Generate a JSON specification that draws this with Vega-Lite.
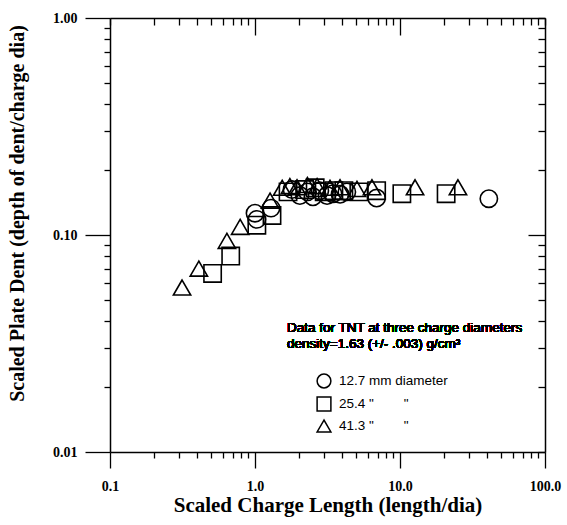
{
  "$schema": "https://vega.github.io/schema/vega-lite/v6.json",
  "width": 435,
  "height": 434,
  "autosize": {"type": "none"},
  "padding": {"left": 110, "top": 18, "right": 22, "bottom": 73},
  "background": "white",
  "config": {
    "view": {"stroke": null},
    "axis": {
      "grid": false,
      "domainColor": "black",
      "domainWidth": 1.5,
      "tickColor": "black",
      "tickWidth": 1.3,
      "labelColor": "black",
      "labelFont": "Liberation Serif",
      "labelFontWeight": "bold",
      "labelFontSize": 14,
      "labelFlush": false,
      "labelOverlap": false,
      "labelBound": false,
      "titleColor": "black",
      "titleFont": "Liberation Serif",
      "titleFontWeight": "bold"
    }
  },
  "data": {
    "values": [
      {"length": 1.0, "dent": 0.126, "dia": "12.7"},
      {"length": 1.03, "dent": 0.118, "dia": "12.7"},
      {"length": 1.29, "dent": 0.133, "dia": "12.7"},
      {"length": 1.8, "dent": 0.162, "dia": "12.7"},
      {"length": 2.04, "dent": 0.152, "dia": "12.7"},
      {"length": 2.3, "dent": 0.158, "dia": "12.7"},
      {"length": 2.51, "dent": 0.15, "dia": "12.7"},
      {"length": 2.8, "dent": 0.16, "dia": "12.7"},
      {"length": 3.14, "dent": 0.152, "dia": "12.7"},
      {"length": 3.45, "dent": 0.155, "dia": "12.7"},
      {"length": 3.86, "dent": 0.154, "dia": "12.7"},
      {"length": 4.3, "dent": 0.158, "dia": "12.7"},
      {"length": 6.9, "dent": 0.148, "dia": "12.7"},
      {"length": 41.0, "dent": 0.147, "dia": "12.7"},
      {"length": 0.51, "dent": 0.0665, "dia": "25.4"},
      {"length": 0.68, "dent": 0.08, "dia": "25.4"},
      {"length": 1.03, "dent": 0.111, "dia": "25.4"},
      {"length": 1.31, "dent": 0.123, "dia": "25.4"},
      {"length": 1.69, "dent": 0.158, "dia": "25.4"},
      {"length": 2.2, "dent": 0.162, "dia": "25.4"},
      {"length": 2.6, "dent": 0.165, "dia": "25.4"},
      {"length": 3.0, "dent": 0.158, "dia": "25.4"},
      {"length": 3.5, "dent": 0.16, "dia": "25.4"},
      {"length": 4.1, "dent": 0.16, "dia": "25.4"},
      {"length": 5.2, "dent": 0.158, "dia": "25.4"},
      {"length": 6.9, "dent": 0.16, "dia": "25.4"},
      {"length": 10.3, "dent": 0.155, "dia": "25.4"},
      {"length": 20.8, "dent": 0.155, "dia": "25.4"},
      {"length": 0.314, "dent": 0.0573, "dia": "41.3"},
      {"length": 0.41, "dent": 0.07, "dia": "41.3"},
      {"length": 0.64, "dent": 0.094, "dia": "41.3"},
      {"length": 0.79, "dent": 0.109, "dia": "41.3"},
      {"length": 1.27, "dent": 0.144, "dia": "41.3"},
      {"length": 1.54, "dent": 0.165, "dia": "41.3"},
      {"length": 1.74, "dent": 0.168, "dia": "41.3"},
      {"length": 1.95, "dent": 0.166, "dia": "41.3"},
      {"length": 2.3, "dent": 0.17, "dia": "41.3"},
      {"length": 2.68, "dent": 0.168, "dia": "41.3"},
      {"length": 3.29, "dent": 0.165, "dia": "41.3"},
      {"length": 3.86, "dent": 0.166, "dia": "41.3"},
      {"length": 5.05, "dent": 0.163, "dia": "41.3"},
      {"length": 6.41, "dent": 0.166, "dia": "41.3"},
      {"length": 12.7, "dent": 0.166, "dia": "41.3"},
      {"length": 25.1, "dent": 0.166, "dia": "41.3"}
    ]
  },
  "layer": [
    {
      "mark": {"type": "point", "filled": false, "color": "black", "strokeWidth": 1.6, "size": 300, "opacity": 1},
      "encoding": {
        "x": {
          "field": "length",
          "type": "quantitative",
          "scale": {"type": "log", "domain": [0.1, 100]},
          "axis": {
            "orient": "bottom",
            "values": [0.1, 0.2, 0.3, 0.4, 0.5, 0.6, 0.7, 0.8, 0.9, 1, 2, 3, 4, 5, 6, 7, 8, 9, 10, 20, 30, 40, 50, 60, 70, 80, 90, 100],
            "labelExpr": "datum.value == 0.1 ? '0.1' : datum.value == 1 ? '1.0' : datum.value == 10 ? '10.0' : datum.value == 100 ? '100.0' : ''",
            "tickSize": {"condition": {"test": "datum.value == 0.1 || datum.value == 1 || datum.value == 10 || datum.value == 100", "value": 16}, "value": 6},
            "labelPadding": 11,
            "title": "Scaled Charge Length (length/dia)",
            "titleFontSize": 21,
            "titleBaseline": "alphabetic",
            "titleY": 59
          }
        },
        "y": {
          "field": "dent",
          "type": "quantitative",
          "scale": {"type": "log", "domain": [0.01, 1]},
          "axis": {
            "orient": "left",
            "values": [0.01, 0.02, 0.03, 0.04, 0.05, 0.06, 0.07, 0.08, 0.09, 0.1, 0.2, 0.3, 0.4, 0.5, 0.6, 0.7, 0.8, 0.9, 1],
            "labelExpr": "datum.value == 0.01 ? '0.01' : datum.value == 0.1 ? '0.10' : datum.value == 1 ? '1.00' : ''",
            "tickSize": {"condition": {"test": "datum.value == 0.01 || datum.value == 0.1 || datum.value == 1", "value": 25}, "value": 6},
            "labelPadding": 8,
            "title": "Scaled Plate Dent (depth of dent/charge dia)",
            "titleFontSize": 20,
            "titleBaseline": "alphabetic",
            "titleAlign": "center",
            "titleX": -87,
            "titleY": 195
          }
        },
        "shape": {
          "field": "dia",
          "type": "nominal",
          "scale": {"domain": ["12.7", "25.4", "41.3"], "range": ["circle", "square", "triangle-up"]},
          "legend": {
            "orient": "none",
            "legendX": 206,
            "legendY": 355,
            "title": null,
            "padding": 0,
            "symbolSize": 190,
            "symbolStrokeWidth": 1.5,
            "symbolStrokeColor": "black",
            "symbolFillColor": "transparent",
            "labelFont": "Liberation Sans",
            "labelFontSize": 13.5,
            "labelColor": "black",
            "labelOffset": 7,
            "rowPadding": 3,
            "labelExpr": "datum.label == '12.7' ? '12.7 mm diameter' : datum.label + ' \"\u00a0\u00a0\u00a0\u00a0\u00a0\u00a0\u00a0\u00a0\"'"
          }
        }
      }
    },
    {
      "mark": {"type": "point", "opacity": 0},
      "encoding": {
        "x": {
          "field": "length",
          "type": "quantitative",
          "scale": {"type": "log", "domain": [0.1, 100]},
          "axis": {
            "orient": "top",
            "values": [0.1, 0.2, 0.3, 0.4, 0.5, 0.6, 0.7, 0.8, 0.9, 1, 2, 3, 4, 5, 6, 7, 8, 9, 10, 20, 30, 40, 50, 60, 70, 80, 90, 100],
            "labels": false,
            "title": null,
            "tickSize": {"condition": {"test": "datum.value == 1 || datum.value == 10", "value": -17}, "value": -7}
          }
        },
        "y": {
          "field": "dent",
          "type": "quantitative",
          "scale": {"type": "log", "domain": [0.01, 1]},
          "axis": {
            "orient": "right",
            "values": [0.01, 0.02, 0.03, 0.04, 0.05, 0.06, 0.07, 0.08, 0.09, 0.1, 0.2, 0.3, 0.4, 0.5, 0.6, 0.7, 0.8, 0.9, 1],
            "labels": false,
            "title": null,
            "tickSize": {"condition": {"test": "datum.value == 0.1", "value": -17}, "value": -7}
          }
        }
      }
    },
    {
      "mark": {"type": "text", "align": "left", "baseline": "alphabetic", "font": "Liberation Sans", "fontSize": 13.5, "lineHeight": 16, "color": "black"},
      "encoding": {
        "x": {"datum": 1.663, "type": "quantitative", "axis": null},
        "y": {"datum": 0.0357, "type": "quantitative", "axis": null},
        "text": {"value": ["Data for TNT at three charge diameters", "density=1.63 (+/- .003) g/cm³"]}
      }
    }
  ],
  "resolve": {"axis": {"x": "independent", "y": "independent"}}
}
